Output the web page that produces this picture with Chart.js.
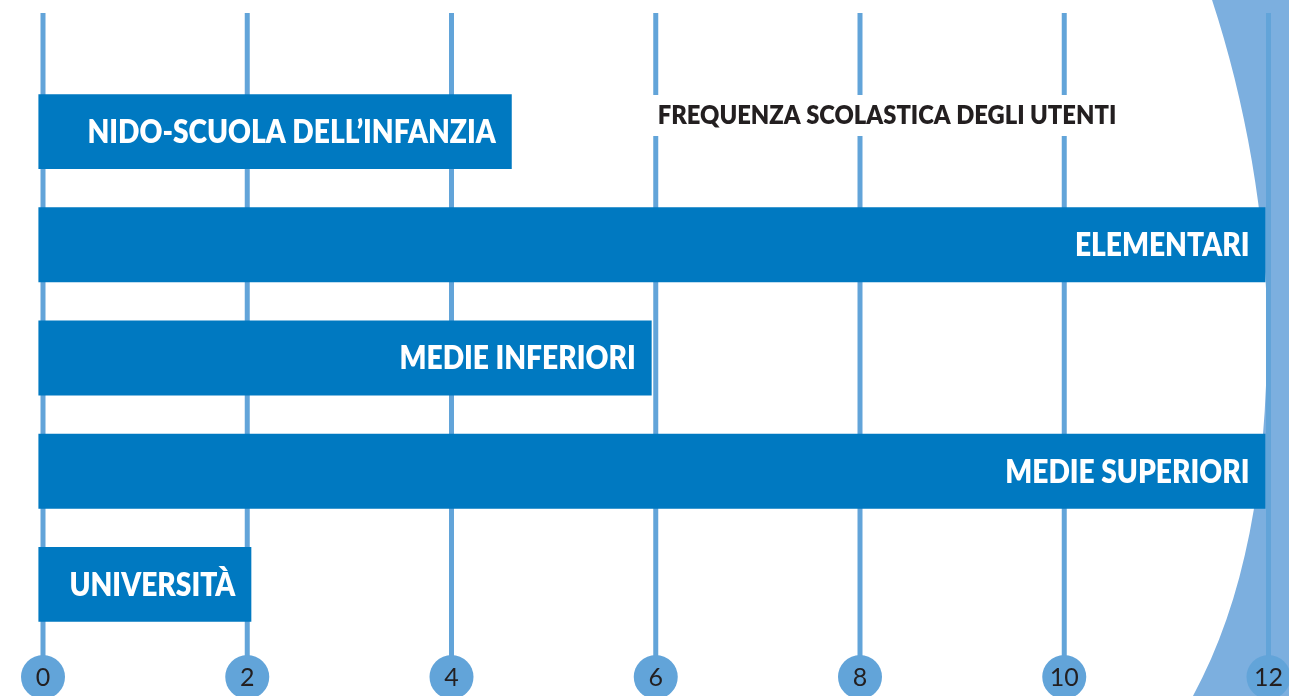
<!DOCTYPE html>
<html lang="it">
<head>
  <meta charset="UTF-8">
  <title>Frequenza scolastica degli utenti</title>
  <style>
    html, body { margin: 0; padding: 0; background: #fff; }
    .wrap { width: 1289px; height: 696px; position: relative; }
  </style>
</head>
<body>
  <div class="wrap"><canvas id="frequenzaChart"></canvas></div>
  <script src="https://cdn.jsdelivr.net/npm/chart.js@4.4.1/dist/chart.umd.min.js"></script>
  <script>
    // dati
    const categories = ['NIDO-SCUOLA DELL\u2019INFANZIA', 'ELEMENTARI', 'MEDIE INFERIORI', 'MEDIE SUPERIORI', 'UNIVERSIT\u00C0'];
    const users = [4.59, 11.97, 5.96, 11.97, 2.04];
    const tickValues = [0, 2, 4, 6, 8, 10, 12];
    const chartTitle = 'FREQUENZA SCOLASTICA DEGLI UTENTI';

    const barBlue = '#0079c1';
    const gridBlue = '#62a4d9';
    const arcBlue = '#7cafdf';
    const darkText = '#231f20';
    const condense = 0.88; // testo un po' stretto, come nell'originale

    // fondo azzurro ad arco sul lato destro
    const arcBackground = {
      id: 'arcBackground',
      beforeDraw(chart) {
        const { ctx, width: w, height: h } = chart;
        ctx.save();
        ctx.fillStyle = arcBlue;
        ctx.beginPath();
        ctx.moveTo(w * 0.9403, 0);
        ctx.bezierCurveTo(w * 0.9659, h * 0.144, w * 0.983, h * 0.316, w * 0.983, h * 0.474);
        ctx.bezierCurveTo(w * 0.983, h * 0.69, w * 0.9659, h * 0.862, w * 0.9255, h);
        ctx.lineTo(w, h);
        ctx.lineTo(w, 0);
        ctx.closePath();
        ctx.fill();
        ctx.restore();
      }
    };

    // linee verticali e cerchi con i numeri
    const ticksInCircles = {
      id: 'ticksInCircles',
      beforeDatasetsDraw(chart) {
        const { ctx, height } = chart;
        const x = chart.scales.x;
        ctx.save();
        x.ticks.forEach(t => {
          const px = x.getPixelForValue(t.value);
          ctx.strokeStyle = gridBlue;
          ctx.lineWidth = 5;
          ctx.beginPath();
          ctx.moveTo(px, 13);
          ctx.lineTo(px, height - 30);
          ctx.stroke();
          ctx.fillStyle = gridBlue;
          ctx.beginPath();
          ctx.arc(px, height - 19, 22, 0, Math.PI * 2);
          ctx.fill();
          ctx.fillStyle = darkText;
          ctx.font = '400 25px Lato';
          ctx.textAlign = 'center';
          ctx.textBaseline = 'middle';
          ctx.fillText(String(t.value), px, height - 18);
        });
        ctx.restore();
      }
    };

    // etichette bianche dentro le barre
    const barLabels = {
      id: 'barLabels',
      afterDatasetsDraw(chart) {
        const { ctx } = chart;
        const meta = chart.getDatasetMeta(0);
        ctx.save();
        ctx.fillStyle = '#fff';
        ctx.font = '800 32px Lato';
        ctx.textAlign = 'right';
        ctx.textBaseline = 'middle';
        meta.data.forEach((bar, i) => {
          ctx.save();
          ctx.translate(bar.x - 16, bar.y + 1);
          ctx.scale(condense, 1);
          ctx.fillText(categories[i], 0, 0);
          ctx.restore();
        });
        ctx.restore();
      }
    };

    // titolo con fondo bianco sopra le linee
    const boxTitle = {
      id: 'boxTitle',
      afterDraw(chart) {
        const { ctx } = chart;
        const x = chart.scales.x;
        const left = x.getPixelForValue(6) + 2;
        ctx.save();
        ctx.font = '800 27px Lato';
        const w = ctx.measureText(chartTitle).width * condense;
        ctx.fillStyle = '#fff';
        ctx.fillRect(left - 6, 95, w + 16, 41);
        ctx.fillStyle = darkText;
        ctx.textAlign = 'left';
        ctx.textBaseline = 'middle';
        ctx.translate(left, 115);
        ctx.scale(condense, 1);
        ctx.fillText(chartTitle, 0, 0);
        ctx.restore();
      }
    };

    new Chart(document.getElementById('frequenzaChart'), {
      type: 'bar',
      data: {
        labels: categories,
        datasets: [{
          label: 'Utenti',
          data: users,
          backgroundColor: barBlue,
          borderWidth: 0,
          base: -0.045,
          clip: false,
          categoryPercentage: 1,
          barPercentage: 0.662
        }]
      },
      options: {
        indexAxis: 'y',
        responsive: true,
        maintainAspectRatio: false,
        animation: false,
        layout: {
          padding: { left: 43, right: 20.5, top: 75, bottom: 55 }
        },
        scales: {
          x: {
            display: false,
            min: 0,
            max: 12,
            afterBuildTicks: scale => {
              scale.ticks = tickValues.map(v => ({ value: v }));
            },
            grid: { display: false }
          },
          y: {
            display: false,
            grid: { display: false }
          }
        },
        plugins: {
          legend: { display: false },
          tooltip: { enabled: false }
        }
      },
      plugins: [arcBackground, ticksInCircles, barLabels, boxTitle]
    });
  </script>
</body>
</html>
